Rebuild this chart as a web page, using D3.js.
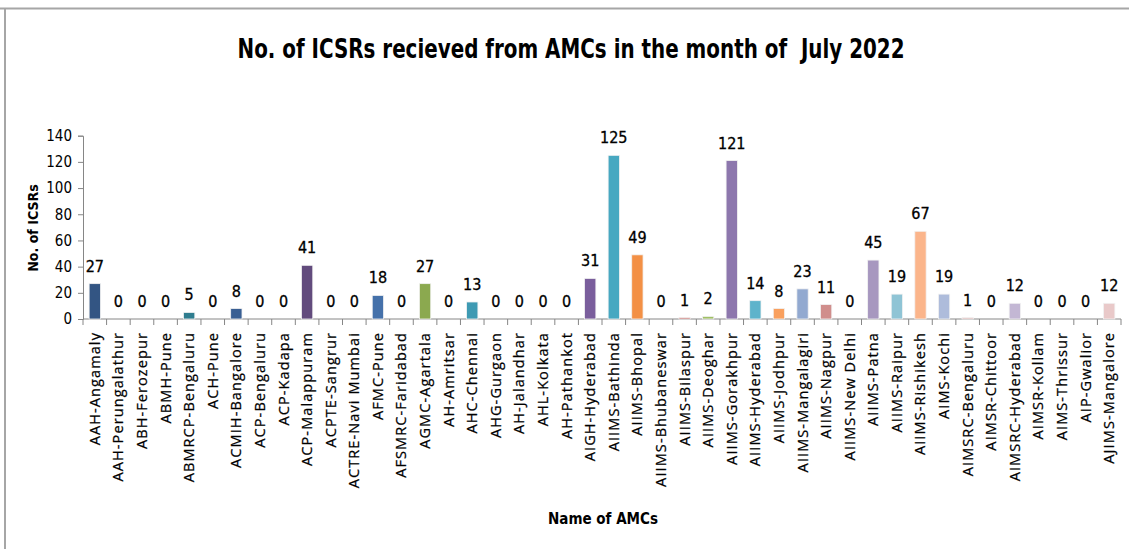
<!DOCTYPE html>
<html>
<head>
<meta charset="utf-8">
<script src="https://cdn.jsdelivr.net/npm/d3@7"></script>
<style>
  body { margin: 0; background: #fff; }
  svg { display: block; }
  .narrow { font-family: "Liberation Sans Narrow", "DejaVu Sans Condensed", sans-serif; }
</style>
</head>
<body>
<svg id="chart" width="1129" height="549"></svg>
<script>
var amcs = ['AAH-Angamaly', 'AAH-Perungalathur', 'ABH-Ferozepur', 'ABMH-Pune', 'ABMRCP-Bengaluru',
  'ACH-Pune', 'ACMIH-Bangalore', 'ACP-Bengaluru', 'ACP-Kadapa', 'ACP-Malappuram', 'ACPTE-Sangrur',
  'ACTRE-Navi Mumbai', 'AFMC-Pune', 'AFSMRC-Faridabad', 'AGMC-Agartala', 'AH-Amritsar', 'AHC-Chennai',
  'AHG-Gurgaon', 'AH-Jalandhar', 'AHL-Kolkata', 'AH-Pathankot', 'AIGH-Hyderabad', 'AIIMS-Bathinda',
  'AIIMS-Bhopal', 'AIIMS-Bhubaneswar', 'AIIMS-Bilaspur', 'AIIMS-Deoghar', 'AIIMS-Gorakhpur',
  'AIIMS-Hyderabad', 'AIIMS-Jodhpur', 'AIIMS-Mangalagiri', 'AIIMS-Nagpur', 'AIIMS-New Delhi',
  'AIIMS-Patna', 'AIIMS-Raipur', 'AIIMS-Rishikesh', 'AIMS-Kochi', 'AIMSRC-Bengaluru', 'AIMSR-Chittoor',
  'AIMSRC-Hyderabad', 'AIMSR-Kollam', 'AIMS-Thrissur', 'AIP-Gwalior', 'AJIMS-Mangalore'];

var icsrs = [27, 0, 0, 0, 5, 0, 8, 0, 0, 41, 0, 0, 18, 0, 27, 0, 13, 0, 0, 0, 0, 31, 125, 49, 0, 1, 2,
  121, 14, 8, 23, 11, 0, 45, 19, 67, 19, 1, 0, 12, 0, 0, 0, 12];

var yTicks = [0, 20, 40, 60, 80, 100, 120, 140];

var barColors = ['#335583', '#8a3a38', '#71893f', '#5d4979', '#2f7d8f', '#b36a2e',
  '#395f93', '#9b4240', '#7f9a47', '#624b7d', '#358ba0', '#c6773a',
  '#4571aa', '#ab4a47', '#8ba94f', '#70578f', '#3e9ab3', '#dd8640',
  '#4b7bb6', '#b94e4b', '#95b356', '#7a5e9c', '#47a8c1', '#f39045',
  '#5b88c0', '#c45d5a', '#a1c066', '#8d77ad', '#5eb3cb', '#f9a05e',
  '#92a9d0', '#d08e8c', '#b2c98a', '#a797bf', '#8fc4d5', '#fbb58b',
  '#aebcdb', '#dcaeac', '#c8d8a9', '#c3b7d4', '#b1d8e3', '#fcccae',
  '#cbd6e9', '#e9c9c9'];

var svg = d3.select('#chart');
var width = 1129, height = 549;
var x0 = 83, x1 = 1121, yTop = 135.7, yBottom = 319;

// frame lines of the pasted chart
svg.append('line').attr('x1', 0).attr('x2', width).attr('y1', 8.5).attr('y2', 8.5)
  .attr('stroke', '#a6a6a6').attr('stroke-width', 2);
svg.append('line').attr('x1', 5).attr('x2', 5).attr('y1', 8).attr('y2', height)
  .attr('stroke', '#a6a6a6').attr('stroke-width', 2);

svg.append('text')
  .attr('class', 'narrow')
  .attr('x', 571).attr('y', 58)
  .attr('text-anchor', 'middle')
  .attr('font-size', 27).attr('font-weight', 'bold').attr('fill', '#000')
  .style('white-space', 'pre')
  .attr('textLength', 667).attr('lengthAdjust', 'spacingAndGlyphs')
  .text('No. of ICSRs recieved from AMCs in the month of  July 2022');

var x = d3.scaleBand().domain(amcs).range([x0, x1]).paddingInner(0.52).paddingOuter(0.26);
var y = d3.scaleLinear().domain([0, 140]).range([yBottom, yTop]);

// y axis
var yAxis = svg.append('g').attr('transform', 'translate(' + x0 + ',0)')
  .call(d3.axisLeft(y).tickValues(yTicks).tickSize(5).tickPadding(6));
yAxis.select('.domain').attr('stroke', '#868686');
yAxis.selectAll('.tick line').attr('stroke', '#868686');
yAxis.selectAll('.tick text').attr('class', 'narrow').attr('font-size', 15).attr('fill', '#000');

// x axis: ticks between categories
var bounds = d3.range(amcs.length + 1).map(function (i) { return x0 + i * (x1 - x0) / amcs.length; });
svg.append('line').attr('x1', x0).attr('x2', x1).attr('y1', yBottom).attr('y2', yBottom)
  .attr('stroke', '#868686');
svg.selectAll('.xtick').data(bounds).enter().append('line')
  .attr('class', 'xtick')
  .attr('x1', function (d) { return d; }).attr('x2', function (d) { return d; })
  .attr('y1', yBottom).attr('y2', yBottom + 6)
  .attr('stroke', '#868686');

svg.selectAll('.xlabel').data(amcs).enter().append('text')
  .attr('class', 'xlabel')
  .attr('transform', function (d) {
    return 'translate(' + (x(d) + x.bandwidth() / 2 + 5) + ',' + (yBottom + 13) + ') rotate(-90)';
  })
  .attr('text-anchor', 'end')
  .attr('font-family', '"Open Sans", sans-serif')
  .attr('font-size', 14.5).attr('letter-spacing', 1.1).attr('fill', '#000')
  .attr('stroke', '#000').attr('stroke-width', 0.25)
  .text(function (d) { return d; });

// bars
svg.selectAll('.bar').data(icsrs).enter().append('rect')
  .attr('class', 'bar')
  .attr('x', function (d, i) { return x(amcs[i]); })
  .attr('y', function (d) { return y(d); })
  .attr('width', x.bandwidth())
  .attr('height', function (d) { return yBottom - y(d); })
  .attr('fill', function (d, i) { return barColors[i]; })
  .attr('stroke', '#f2f2f2').attr('stroke-width', 0.8);

// value labels
svg.selectAll('.val').data(icsrs).enter().append('text')
  .attr('class', 'val narrow')
  .attr('x', function (d, i) { return x(amcs[i]) + x.bandwidth() / 2; })
  .attr('y', function (d) { return y(d) - 12; })
  .attr('text-anchor', 'middle')
  .attr('font-size', 16).attr('fill', '#000')
  .attr('stroke', '#000').attr('stroke-width', 0.3)
  .text(function (d) { return d; });

// axis titles
svg.append('text')
  .attr('class', 'narrow')
  .attr('transform', 'translate(38,228) rotate(-90)')
  .attr('text-anchor', 'middle')
  .attr('font-size', 14).attr('font-weight', 'bold').attr('fill', '#000')
  .text('No. of ICSRs');

svg.append('text')
  .attr('class', 'narrow')
  .attr('x', 603).attr('y', 524)
  .attr('text-anchor', 'middle')
  .attr('font-size', 15).attr('font-weight', 'bold').attr('fill', '#000')
  .text('Name of AMCs');
</script>
</body>
</html>
